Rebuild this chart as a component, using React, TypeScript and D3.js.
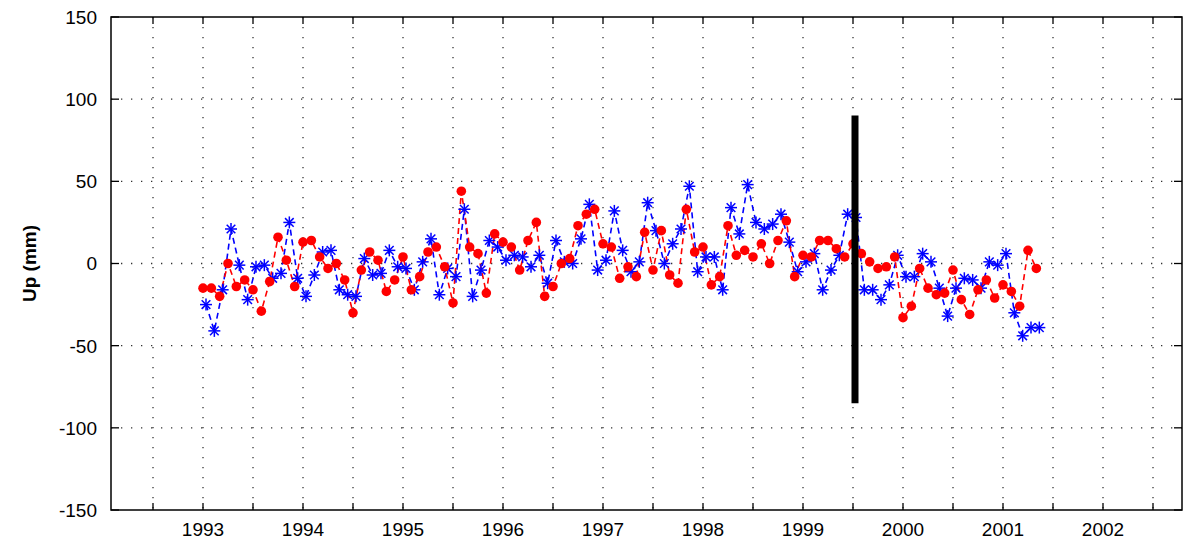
import * as d3 from "d3";

// monthly solutions, first epoch Jan 1993
const startYear = 1993;
const blueLag = 0.03;

const redUp = [
  -15, -15, -20, 0, -14, -10, -16, -29, -11, 16, 2, -14, 13, 14, 4, -3, 0, -10, -30, -4,
  7, 2, -17, -10, 4, -16, -8, 7, 10, -2, -24, 44, 10, 6, -18, 18, 13, 10, -4, 14,
  25, -20, -14, 0, 3, 23, 30, 33, 12, 10, -9, -2, -8, 19, -4, 20, -7, -12, 33, 7,
  10, -13, -8, 23, 5, 8, 4, 12, 0, 14, 26, -8, 5, 4, 14, 14, 9, 4, 12, 6,
  1, -3, -2, 4, -33, -26, -3, -15, -19, -18, -4, -22, -31, -16, -10, -21, -13, -17, -26, 8,
  -3,
];

const blueUp = [
  -25, -41, -16, 21, -1, -22, -2, -1, -9, -6, 25, -9, -20, -7, 7, 8, -16, -19, -20, 3,
  -7, -6, 8, -2, -3, -16, 1, 15, -19, -3, -8, 33, -20, -4, 14, 10, 2, 5, 4, -2,
  5, -12, 14, 1, 0, 15, 36, -4, 2, 32, 8, -5, 1, 37, 20, 0, 12, 21, 47, -5,
  4, 4, -16, 34, 18, 48, 25, 21, 24, 30, 13, -5, 1, 6, -16, -4, 5, 30, 28, -16,
  -16, -22, -13, 5, -8, -8, 6, 1, -15, -32, -15, -9, -10, -15, 1, -1, 6, -30, -44, -39,
  -39,
];

const yearLabels = [1993, 1994, 1995, 1996, 1997, 1998, 1999, 2000, 2001, 2002];
const yTicks = [-150, -100, -50, 0, 50, 100, 150];
const eventEpoch = 1999.52;
const eventRange = [-85, 90];

const W = 1187;
const H = 543;
const left = 111;
const right = 1182;
const top = 17;
const bottom = 510;

export default function App() {
  const x = d3.scaleLinear().domain([1992.08, 2002.79]).range([left, right]);
  const y = d3.scaleLinear().domain([-150, 150]).range([bottom, top]);

  const xTicks = d3.range(1992.5, 2002.51, 0.5);

  const red = redUp.map((v, i) => [startYear + i / 12, v] as [number, number]);
  const blue = blueUp.map((v, i) => [startYear + i / 12 + blueLag, v] as [number, number]);

  const line = d3
    .line<[number, number]>()
    .x((d) => x(d[0]))
    .y((d) => y(d[1]));

  const font = "'Liberation Sans', Arial, sans-serif";
  const grid = { stroke: "#333", strokeWidth: 1.3, strokeDasharray: "1.3,8.7" };
  const s = 6;

  return (
    <div style={{ position: "absolute", left: 0, top: 0 }}>
      <svg width={W} height={H} style={{ display: "block", background: "#fff" }}>
        {/* grid */}
        {xTicks.map((t) => (
          <line key={"gx" + t} x1={x(t)} x2={x(t)} y1={top} y2={bottom} {...grid} />
        ))}
        {yTicks.slice(1, -1).map((t) => (
          <line key={"gy" + t} x1={left} x2={right} y1={y(t)} y2={y(t)} {...grid} />
        ))}

        {/* ticks */}
        {xTicks.map((t) => (
          <g key={"tx" + t} stroke="#000" strokeWidth={1.3}>
            <line x1={x(t)} x2={x(t)} y1={bottom} y2={bottom - 7} />
            <line x1={x(t)} x2={x(t)} y1={top} y2={top + 7} />
          </g>
        ))}
        {yTicks.map((t) => (
          <g key={"ty" + t} stroke="#000" strokeWidth={1.3}>
            <line x1={left} x2={left + 8} y1={y(t)} y2={y(t)} />
            <line x1={right} x2={right - 8} y1={y(t)} y2={y(t)} />
          </g>
        ))}

        {/* series lines */}
        <path d={line(blue) ?? ""} fill="none" stroke="#0000ff" strokeWidth={1.6} strokeDasharray="6,4" />
        <path d={line(red) ?? ""} fill="none" stroke="#ff0000" strokeWidth={1.6} strokeDasharray="6,4" />

        {/* blue asterisks */}
        {blue.map((d, i) => {
          const cx = x(d[0]);
          const cy = y(d[1]);
          const k = s * 0.72;
          return (
            <g key={"b" + i} stroke="#0000ff" strokeWidth={1.5}>
              <line x1={cx - s} x2={cx + s} y1={cy} y2={cy} />
              <line x1={cx} x2={cx} y1={cy - s} y2={cy + s} />
              <line x1={cx - k} x2={cx + k} y1={cy - k} y2={cy + k} />
              <line x1={cx - k} x2={cx + k} y1={cy + k} y2={cy - k} />
            </g>
          );
        })}

        {/* red dots */}
        {red.map((d, i) => (
          <circle key={"r" + i} cx={x(d[0])} cy={y(d[1])} r={4.8} fill="#ff0000" />
        ))}

        {/* event bar */}
        <line
          x1={x(eventEpoch)}
          x2={x(eventEpoch)}
          y1={y(eventRange[0])}
          y2={y(eventRange[1])}
          stroke="#000"
          strokeWidth={7}
        />

        {/* frame */}
        <rect x={left} y={top} width={right - left} height={bottom - top} fill="none" stroke="#000" strokeWidth={1.5} />

        {/* labels */}
        {yTicks.map((t) => (
          <text
            key={"ly" + t}
            x={97}
            y={y(t)}
            dy="0.36em"
            textAnchor="end"
            fontFamily={font}
            fontSize={19}
          >
            {t}
          </text>
        ))}
        {yearLabels.map((t) => (
          <text
            key={"lx" + t}
            x={x(t)}
            y={536}
            textAnchor="middle"
            fontFamily={font}
            fontSize={19}
          >
            {t}
          </text>
        ))}
        <text
          transform={`translate(36,${y(0)}) rotate(-90)`}
          textAnchor="middle"
          fontFamily={font}
          fontSize={19}
          fontWeight="bold"
        >
          Up (mm)
        </text>
      </svg>
    </div>
  );
}
